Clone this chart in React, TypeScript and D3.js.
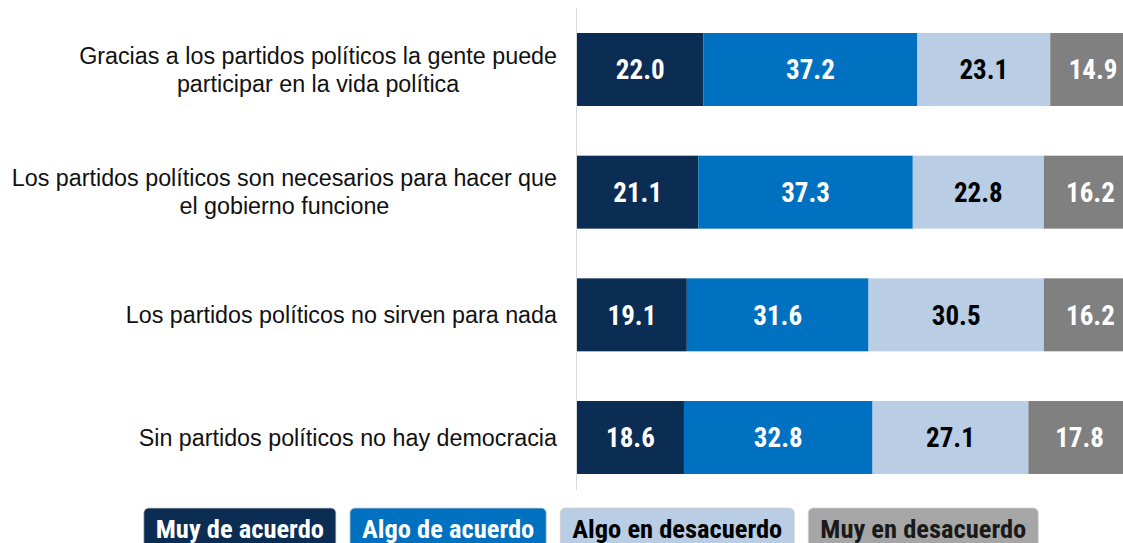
import React, { useEffect, useRef } from 'react';
import * as d3 from 'd3';

const categories = [
  ['Gracias a los partidos políticos la gente puede', 'participar en la vida política'],
  ['Los partidos políticos son necesarios para hacer que', 'el gobierno funcione'],
  ['Los partidos políticos no sirven para nada'],
  ['Sin partidos políticos no hay democracia'],
];
const seriesNames = ['Muy de acuerdo', 'Algo de acuerdo', 'Algo en desacuerdo', 'Muy en desacuerdo'];
const muyDeAcuerdo = [22.0, 21.1, 19.1, 18.6];
const algoDeAcuerdo = [37.2, 37.3, 31.6, 32.8];
const algoEnDesacuerdo = [23.1, 22.8, 30.5, 27.1];
const muyEnDesacuerdo = [14.9, 16.2, 16.2, 17.8];

const barColors = ['#0b2d54', '#0070c0', '#b9cde5', '#808080'];
const legendColors = ['#0b2d54', '#0070c0', '#b9cde5', '#a6a6a6'];
const textColors = ['#fff', '#fff', '#000', '#fff'];
const legendText = ['#fff', '#fff', '#000', '#1a1a1a'];

const App = () => {
  const svgRef = useRef<SVGSVGElement>(null);

  useEffect(() => {
    const left = 577;
    const svg = d3.select(svgRef.current);
    svg.selectAll('*').remove();

    const series = [muyDeAcuerdo, algoDeAcuerdo, algoEnDesacuerdo, muyEnDesacuerdo];
    const rows = categories.map((c, i) => {
      const vals = series.map(s => s[i]);
      let acc = 0;
      return vals.map((v, k) => {
        const seg = { k, x0: acc, x1: acc + v, v };
        acc += v;
        return seg;
      });
    });

    const x = d3.scaleLinear().domain([0, 100]).range([left, left + 575]);
    const y = d3.scaleBand<number>()
      .domain(d3.range(categories.length))
      .range([33, 474])
      .paddingInner(0.405)
      .paddingOuter(0);

    // axis line
    svg.append('line')
      .attr('x1', left - 0.5).attr('x2', left - 0.5)
      .attr('y1', 8).attr('y2', 490)
      .attr('stroke', '#d9d9d9').attr('stroke-width', 1);

    const rowG = svg.selectAll('g.row')
      .data(rows)
      .enter().append('g')
      .attr('class', 'row')
      .attr('transform', (d, i) => `translate(0,${y(i)})`);

    rowG.selectAll('rect')
      .data(d => d)
      .enter().append('rect')
      .attr('x', d => x(d.x0))
      .attr('y', 0)
      .attr('width', d => x(d.x1) - x(d.x0))
      .attr('height', y.bandwidth())
      .attr('fill', d => barColors[d.k]);

    rowG.selectAll('text.val')
      .data(d => d)
      .enter().append('text')
      .attr('class', 'val')
      .attr('x', d => (x(d.x0) + x(d.x1)) / 2)
      .attr('y', y.bandwidth() / 2)
      .attr('dy', '0.36em')
      .attr('text-anchor', 'middle')
      .style('font-family', '"Liberation Sans Narrow", "Roboto Condensed", Roboto, sans-serif')
      .style('font-weight', 'bold')
      .style('font-size', '27px')
      .attr('fill', d => textColors[d.k])
      .text(d => d.v.toFixed(1));

    // category labels: centred block, right edge at 557
    categories.forEach((lines, i) => {
      const g = svg.append('g');
      const cy = (y(i) as number) + y.bandwidth() / 2;
      const lh = 28;
      const t = g.append('text')
        .style('font-family', '"Liberation Sans", Arial, sans-serif')
        .style('font-size', '23.3px')
        .attr('fill', '#111')
        .attr('text-anchor', 'middle');
      lines.forEach((ln, j) => {
        t.append('tspan')
          .attr('x', 0)
          .attr('y', cy + (j - (lines.length - 1) / 2) * lh)
          .attr('dy', '0.35em')
          .text(ln);
      });
      const bb = (t.node() as SVGTextElement).getBBox();
      g.attr('transform', `translate(${557 - bb.width / 2},0)`);
    });

    // legend
    const lg = svg.append('g');
    const pad = 12, gap = 14;
    let cx = 0;
    seriesNames.forEach((name, k) => {
      const g = lg.append('g');
      const rect = g.append('rect')
        .attr('y', 508).attr('height', 50)
        .attr('rx', 5).attr('ry', 5)
        .attr('fill', legendColors[k])
        .attr('stroke', '#d0d0d0').attr('stroke-width', 0.8);
      const t = g.append('text')
        .attr('y', 538)
        .style('font-family', '"Liberation Sans Narrow", "Roboto Condensed", Roboto, sans-serif')
        .style('font-weight', 'bold')
        .style('font-size', '26.5px')
        .attr('fill', legendText[k])
        .text(name);
      const w = (t.node() as SVGTextElement).getComputedTextLength();
      rect.attr('x', cx).attr('width', w + 2 * pad);
      t.attr('x', cx + pad);
      cx += w + 2 * pad + gap;
    });
    const total = cx - gap;
    lg.attr('transform', `translate(${591 - total / 2},0)`);
  }, []);

  return (
    <svg ref={svgRef} width={1123} height={543}
      style={{ position: 'absolute', left: 0, top: 0, background: '#fff' }} />
  );
};

export default App;
